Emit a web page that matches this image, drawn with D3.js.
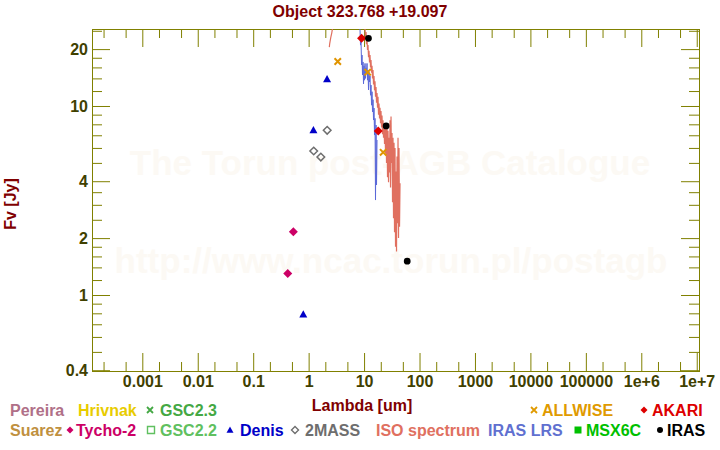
<!DOCTYPE html>
<html>
<head>
<meta charset="utf-8">
<script src="https://cdn.jsdelivr.net/npm/d3@7"></script>
<style>
body { margin: 0; background: #fff; }
text { font-family: "Liberation Sans", Arial, sans-serif; font-weight: bold; }
</style>
</head>
<body>
<div id="sed"></div>
<script>
var width = 720, height = 450

// Photometry, lambda in um and flux in Jy
var tychoLam = [0.42, 0.53], tychoFlux = [1.30, 2.16]
var denisLam = [0.80, 1.22, 2.15], denisFlux = [0.79, 7.46, 13.9]
var twomassLam = [1.235, 1.66, 2.16], twomassFlux = [5.78, 5.37, 7.44]
var allwiseLam = [3.35, 11.6, 22.1], allwiseFlux = [17.2, 15.1, 5.69]
var akariLam = [9.0, 18.0], akariFlux = [22.8, 7.37]
var irasLam = [12, 25, 60], irasFlux = [22.8, 7.84, 1.51]

// ISO SWS spectrum
var isoLam = [2.36, 2.40, 2.50, 2.61, 2.72, 3.68, 5.57, 8.45, 9.98,
  10.40, 10.6, 10.84, 11.07, 11.30, 11.54, 11.78, 12.03, 12.28, 12.54,
  12.80, 13.07, 13.34, 13.63, 13.91, 14.20, 14.50, 14.80, 15.11, 15.43,
  15.75, 16.08, 16.42, 16.77, 17.12, 17.48, 17.84, 18.22, 18.60, 18.99,
  19.39, 19.80, 20.21, 20.64, 21.07, 21.51, 21.96, 22.42, 22.89, 23.37,
  23.86, 24.37, 24.88, 25.40, 25.93, 26.47, 27.03, 27.60, 28.18, 28.77,
  29.37, 29.99, 30.62, 31.26, 31.92, 32.59, 33.27, 33.97, 34.68, 35.41,
  36.15, 36.91, 37.69, 38.48, 39.28, 40.11, 40.95, 41.81, 42.69, 43.59, 44.50]
var isoFlux = [20.5, 21.4, 22.9, 24.3, 26.1, 32.2, 34.2, 30.3, 27.5,
  25.5, 23.2, 24.6, 21.2, 22.6, 19.8, 21.0, 18.1, 19.6, 17.0,
  18.6, 16.0, 17.5, 15.0, 16.3, 14.0, 15.5, 13.0, 14.4, 12.1,
  13.5, 11.2, 12.6, 10.4, 11.7, 9.8, 11.2, 9.0, 10.3, 8.6,
  9.8, 8.1, 9.4, 7.7, 8.9, 7.1, 8.4, 6.8, 8.1, 6.3,
  7.8, 5.6, 7.6, 5.0, 8.1, 4.2, 7.4, 3.95, 6.8, 4.45,
  8.4, 3.7, 8.8, 5.0, 7.2, 3.1, 6.8, 2.55, 6.4, 2.15,
  6.0, 1.8, 4.5, 1.7, 5.4, 2.4, 6.8, 2.0, 6.0, 2.3, 3.9]

// IRAS LRS spectrum
var lrsLam = [7.78, 8.45, 8.63, 8.81, 9.0, 9.18, 9.37, 9.57, 9.77, 9.98,
  10.19, 10.40, 10.62, 10.84, 11.07, 11.30, 11.54, 11.78, 12.03, 12.28,
  12.54, 12.80, 13.07, 13.34, 13.63, 13.91, 14.20, 14.50, 14.80, 15.11,
  15.43, 15.75, 16.08, 16.42, 16.77, 17.12]
var lrsFlux = [28.5, 25.2, 21.0, 22.3, 16.5, 18.6, 14.6, 17.1, 13.1, 16.3,
  13.7, 16.8, 14.0, 15.9, 14.8, 16.8, 13.7, 15.5, 12.15, 15.1,
  13.4, 14.4, 11.4, 12.9, 10.1, 11.9, 9.3, 10.8, 8.43, 9.75,
  7.02, 8.6, 3.18, 7.93, 3.82, 6.61]

// Ticks
var xMajor = [1e-3, 1e-2, 1e-1, 1, 10, 100, 1000, 1e4, 1e5, 1e6, 1e7]
var xLabels = ["0.001", "0.01", "0.1", "1", "10", "100", "1000", "10000", "100000", "1e+6", "1e+7"]
var xMinor = [2e-4, 5e-4, 2e-3, 5e-3, 2e-2, 5e-2, 0.2, 0.5, 2, 5, 20, 50, 200, 500,
  2000, 5000, 2e4, 5e4, 2e5, 5e5, 2e6, 5e6]
var yMajor = [0.4, 1, 2, 4, 10, 20]
var yLabels = ["0.4", "1", "2", "4", "10", "20"]
var yMinor = [0.5, 0.6, 0.7, 0.8, 0.9, 1.2, 1.4, 1.6, 1.8, 2.5, 3, 3.5, 5, 6, 7, 8, 9,
  12, 14, 16, 18, 25]

var axisColor = "#808000", labelColor = "#404000", titleColor = "#800000"

var svg = d3.select("#sed")
    .append("svg")
    .attr("width", width)
    .attr("height", height)

var pLeft = 92, pRight = 699, pTop = 29, pBottom = 371

var x = d3.scaleLog().domain([1.238e-4, 1.0986e7]).range([pLeft, pRight])
var y = d3.scaleLog().domain([0.3962, 25.55]).range([pBottom, pTop])

// watermark
var wm = svg.append("g")
    .attr("fill", "#fcf9f4")
    .attr("text-anchor", "middle")
    .style("font-size", "35px")
wm.append("text").attr("x", 390).attr("y", 175).text("The Torun post-AGB Catalogue")
wm.append("text").attr("x", 391).attr("y", 273).text("http://www.ncac.torun.pl/postagb")

// axes: ticks on all four sides, pointing inward
function styleAxis(g) {
    g.select(".domain").remove()
    g.selectAll(".tick line").attr("stroke", axisColor)
    g.selectAll(".tick text")
        .attr("fill", labelColor)
        .style("font-size", "16px")
        .style("font-family", '"Liberation Sans", Arial, sans-serif')
}
function xFmt(d) { return xLabels[xMajor.indexOf(d)] }
function yFmt(d) { return yLabels[yMajor.indexOf(d)] }

svg.append("g").attr("transform", "translate(0," + pBottom + ")")
    .call(d3.axisBottom(x).tickValues(xMajor).tickFormat(xFmt).tickSizeInner(-18).tickSizeOuter(0).tickPadding(5))
    .call(styleAxis)
svg.append("g").attr("transform", "translate(0," + pBottom + ")")
    .call(d3.axisBottom(x).tickValues(xMinor).tickFormat("").tickSizeInner(-9).tickSizeOuter(0))
    .call(styleAxis)
svg.append("g").attr("transform", "translate(0," + pTop + ")")
    .call(d3.axisTop(x).tickValues(xMajor).tickFormat("").tickSizeInner(-18).tickSizeOuter(0))
    .call(styleAxis)
svg.append("g").attr("transform", "translate(0," + pTop + ")")
    .call(d3.axisTop(x).tickValues(xMinor).tickFormat("").tickSizeInner(-9).tickSizeOuter(0))
    .call(styleAxis)
svg.append("g").attr("transform", "translate(" + pLeft + ",0)")
    .call(d3.axisLeft(y).tickValues(yMajor).tickFormat(yFmt).tickSizeInner(-18).tickSizeOuter(0).tickPadding(4))
    .call(styleAxis)
svg.append("g").attr("transform", "translate(" + pLeft + ",0)")
    .call(d3.axisLeft(y).tickValues(yMinor).tickFormat("").tickSizeInner(-10).tickSizeOuter(0))
    .call(styleAxis)
svg.append("g").attr("transform", "translate(" + pRight + ",0)")
    .call(d3.axisRight(y).tickValues(yMajor).tickFormat("").tickSizeInner(-18).tickSizeOuter(0))
    .call(styleAxis)
svg.append("g").attr("transform", "translate(" + pRight + ",0)")
    .call(d3.axisRight(y).tickValues(yMinor).tickFormat("").tickSizeInner(-10).tickSizeOuter(0))
    .call(styleAxis)

svg.append("rect")
    .attr("x", pLeft + 0.5).attr("y", pTop + 0.5)
    .attr("width", pRight - pLeft).attr("height", pBottom - pTop)
    .attr("fill", "none").attr("stroke", axisColor)

// titles
svg.append("text").attr("x", 360).attr("y", 17).attr("text-anchor", "middle")
    .attr("fill", titleColor).style("font-size", "16px").text("Object 323.768 +19.097")
svg.append("text").attr("x", 362).attr("y", 411).attr("text-anchor", "middle")
    .attr("fill", titleColor).style("font-size", "16px").text("Lambda [um]")
svg.append("text").attr("transform", "translate(16,204) rotate(-90)").attr("text-anchor", "middle")
    .attr("fill", titleColor).style("font-size", "16px").text("Fv [Jy]")

// spectra, clipped to the plot box
svg.append("clipPath").attr("id", "plotclip")
    .append("rect").attr("x", pLeft).attr("y", pTop).attr("width", pRight - pLeft).attr("height", pBottom - pTop)

var line = d3.line().x(function(d) { return x(d[0]) }).y(function(d) { return y(d[1]) })
var plot = svg.append("g").attr("clip-path", "url(#plotclip)")
plot.append("path")
    .attr("d", line(d3.zip(isoLam, isoFlux)))
    .attr("fill", "none").attr("stroke", "#e07060").attr("stroke-width", 1.2)
plot.append("path")
    .attr("d", line(d3.zip(lrsLam, lrsFlux)))
    .attr("fill", "none").attr("stroke", "#5a68d8").attr("stroke-width", 1)

// marker shapes
function marker(type, r) {
    if (type == "diamond") return "M0," + (-r) + "L" + r + ",0L0," + r + "L" + (-r) + ",0Z"
    if (type == "triangle") return "M0," + (-r) + "L" + r + "," + (r * 0.8) + "L" + (-r) + "," + (r * 0.8) + "Z"
    if (type == "cross") return "M" + (-r) + "," + (-r) + "L" + r + "," + r + "M" + r + "," + (-r) + "L" + (-r) + "," + r
    if (type == "square") return "M" + (-r) + "," + (-r) + "h" + (2 * r) + "v" + (2 * r) + "h" + (-2 * r) + "Z"
    if (type == "circle") return d3.symbol(d3.symbolCircle, Math.PI * r * r)()
}
function drawPoints(lam, flux, type, r, color, open, sw) {
    svg.append("g").selectAll("path")
        .data(d3.zip(lam, flux))
        .enter().append("path")
        .attr("transform", function(d) { return "translate(" + x(d[0]) + "," + y(d[1]) + ")" })
        .attr("d", marker(type, r))
        .attr("fill", open ? "none" : color)
        .attr("stroke", open ? color : "none")
        .attr("stroke-width", sw || 1)
}
drawPoints(tychoLam, tychoFlux, "diamond", 4.5, "#cc0066")
drawPoints(denisLam, denisFlux, "triangle", 4, "#0000c8")
drawPoints(twomassLam, twomassFlux, "diamond", 3.8, "#6e6e6e", true, 1.5)
drawPoints(allwiseLam, allwiseFlux, "cross", 3.2, "#e09400", true, 2)
drawPoints(akariLam, akariFlux, "diamond", 4.5, "#dd0000")
drawPoints(irasLam, irasFlux, "circle", 3.4, "#000000")

// legend
var legendItems = [
    {name: "Pereira", color: "#b07088", x: 10, row: 0},
    {name: "Hrivnak", color: "#e8cc00", x: 78, row: 0},
    {name: "GSC2.3", color: "#44a844", x: 160, row: 0, sym: "cross", sx: 150, open: true},
    {name: "ALLWISE", color: "#e09a00", x: 542, row: 0, sym: "cross", sx: 534, open: true},
    {name: "AKARI", color: "#dd0000", x: 652, row: 0, sym: "diamond", sx: 644},
    {name: "Suarez", color: "#c09040", x: 10, row: 1},
    {name: "Tycho-2", color: "#cc0066", x: 76, row: 1, sym: "diamond", sx: 70},
    {name: "GSC2.2", color: "#60c060", x: 160, row: 1, sym: "square", sx: 151, open: true},
    {name: "Denis", color: "#0000c8", x: 240, row: 1, sym: "triangle", sx: 230},
    {name: "2MASS", color: "#6e6e6e", x: 305, row: 1, sym: "diamond", sx: 295, open: true},
    {name: "ISO spectrum", color: "#e07060", x: 376, row: 1},
    {name: "IRAS LRS", color: "#6070d0", x: 488, row: 1},
    {name: "MSX6C", color: "#00c000", x: 586, row: 1, sym: "square", sx: 578},
    {name: "IRAS", color: "#000000", x: 667, row: 1, sym: "circle", sx: 660}
]
var rowBase = [416, 436]
var lg = svg.append("g")
legendItems.forEach(function(it) {
    lg.append("text").attr("x", it.x).attr("y", rowBase[it.row])
        .attr("fill", it.color).style("font-size", "16px").text(it.name)
    if (it.sym) {
        var r = it.sym == "cross" ? 3 : (it.sym == "circle" ? 3 : 3.5)
        lg.append("path")
            .attr("transform", "translate(" + it.sx + "," + (rowBase[it.row] - 6) + ")")
            .attr("d", marker(it.sym, r))
            .attr("fill", it.open ? "none" : it.color)
            .attr("stroke", it.open ? it.color : "none")
            .attr("stroke-width", it.sym == "cross" ? 1.8 : 1.4)
    }
})
</script>
</body>
</html>
